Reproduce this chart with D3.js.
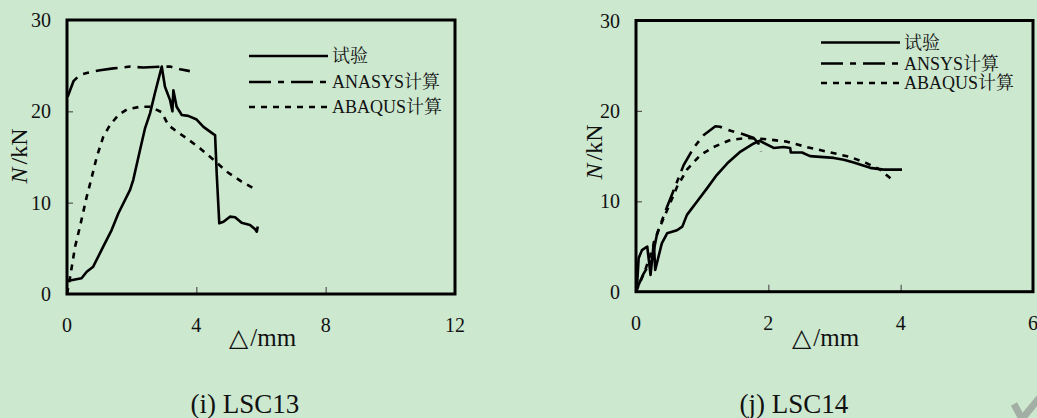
<!DOCTYPE html>
<html>
<head>
<meta charset="utf-8">
<script src="https://cdn.jsdelivr.net/npm/d3@7"></script>
<style>
  html, body { margin: 0; padding: 0; background: #cce8cf; }
  svg { display: block; }
</style>
</head>
<body>
<svg id="fig" width="1037" height="418"></svg>
<script>
// ---- LSC13: displacement (mm), load (kN) ----
const lsc13Test = [
  [0.01, 1.42], [0.45, 1.72], [0.61, 2.44], [0.81, 2.99], [1.12, 5.18], [1.38, 7.0],
  [1.59, 8.84], [1.95, 11.4], [2.05, 12.5], [2.26, 15.8], [2.41, 18.1], [2.57, 19.8],
  [2.72, 22.0], [2.93, 24.9], [3.03, 22.7], [3.19, 21.2], [3.26, 20.0], [3.29, 22.3],
  [3.39, 20.5], [3.55, 19.6], [3.75, 19.5], [4.01, 19.1], [4.22, 18.3], [4.53, 17.5],
  [4.58, 17.4], [4.63, 13.2], [4.71, 7.74], [4.84, 7.9], [5.04, 8.47], [5.20, 8.4],
  [5.40, 7.8], [5.66, 7.56], [5.82, 7.09], [5.87, 6.82], [5.90, 7.4]
];
const lsc13Ansys = [
  [0.02, 21.6], [0.2, 23.3], [0.40, 24.0], [0.61, 24.2], [1.02, 24.5], [1.43, 24.7],
  [1.95, 24.9], [2.36, 24.8], [2.93, 24.9], [3.19, 24.9], [3.50, 24.6], [3.80, 24.4]
];
const lsc13Abaqus = [
  [0.0, 0.0], [0.09, 1.72], [0.25, 5.18], [0.40, 7.37], [0.61, 10.66], [0.76, 12.7],
  [0.92, 15.0], [1.12, 17.2], [1.33, 18.5], [1.59, 19.6], [1.85, 20.2], [2.26, 20.5],
  [2.57, 20.5], [2.93, 19.9], [3.13, 18.5], [3.39, 17.8], [3.70, 17.05], [4.11, 15.96],
  [4.53, 14.7], [4.94, 13.4], [5.40, 12.3], [5.76, 11.6]
];

// ---- LSC14 ----
const lsc14Test = [
  [0.015, 0.55], [0.04, 3.7], [0.09, 4.6], [0.17, 5.0], [0.22, 1.85], [0.27, 5.5],
  [0.29, 2.4], [0.39, 5.35], [0.47, 6.46], [0.62, 6.8], [0.70, 7.2], [0.77, 8.5],
  [0.92, 9.96], [1.07, 11.4], [1.22, 12.9], [1.38, 14.2], [1.58, 15.5], [1.78, 16.4],
  [1.87, 16.7], [2.08, 15.9], [2.23, 16.0], [2.33, 15.9], [2.34, 15.4], [2.51, 15.4],
  [2.63, 15.0], [2.99, 14.8], [3.14, 14.6], [3.29, 14.3], [3.54, 13.7], [3.74, 13.5],
  [4.02, 13.5]
];
const lsc14Ansys = [
  [0.015, 0.37], [0.115, 2.0], [0.24, 3.5], [0.32, 6.46], [0.47, 9.4], [0.59, 11.6],
  [0.72, 14.0], [0.87, 15.9], [1.02, 17.3], [1.20, 18.3], [1.27, 18.25], [1.43, 17.8],
  [1.63, 17.4], [1.78, 17.0], [1.85, 16.4], [1.89, 15.5]
];
const lsc14Abaqus = [
  [0.0, 0.0], [0.14, 2.4], [0.34, 6.8], [0.47, 9.0], [0.62, 11.6], [0.77, 13.5],
  [0.97, 15.1], [1.17, 16.0], [1.43, 16.8], [1.68, 17.0], [1.93, 16.9], [2.28, 16.6],
  [2.58, 16.0], [2.94, 15.4], [3.24, 14.9], [3.49, 14.2], [3.69, 13.5], [3.87, 12.4]
];

// ---- axis ticks and labels ----
const yTicks = [0, 10, 20, 30];
const xTicks13 = [0, 4, 8, 12];
const xTicks14 = [0, 2, 4, 6];
const legend13 = ["试验", "ANASYS计算", "ABAQUS计算"];
const legend14 = ["试验", "ANSYS计算", "ABAQUS计算"];
const captions = ["(i) LSC13", "(j) LSC14"];

const SERIF = "'Liberation Serif', 'Times New Roman', Times, 'DejaVu Serif', 'Noto Serif CJK SC', 'Noto Sans CJK SC', serif";

const W = 1037, H = 418;
const svg = d3.select("#fig").attr("font-family", SERIF);

const styles = [
  { dash: null, width: 2.6 },          // test
  { dash: "22,7,6,7", width: 2.6 },    // ANSYS
  { dash: "6,6", width: 2.6 }          // ABAQUS
];

const panels = [
  {
    box: { x0: 67, x1: 455, y0: 20, y1: 294 },
    xTicks: xTicks13, series: [lsc13Test, lsc13Ansys, lsc13Abaqus],
    legend: legend13, leg: { x0: 249, x1: 328, rows: [56, 82, 107] },
    caption: captions[0], capX: 245, xTitleX: 229, yTitleX: 27, yTitleY: 156
  },
  {
    box: { x0: 636, x1: 1033, y0: 20.5, y1: 291.7 },
    xTicks: xTicks14, series: [lsc14Test, lsc14Ansys, lsc14Abaqus],
    legend: legend14, leg: { x0: 821, x1: 900, rows: [42.5, 63.5, 83] },
    caption: captions[1], capX: 794, xTitleX: 792, yTitleX: 602, yTitleY: 152
  }
];

panels.forEach(p => {
  const b = p.box;
  const xMax = p.xTicks[p.xTicks.length - 1];
  const x = d3.scaleLinear().domain([0, xMax]).range([b.x0, b.x1]);
  const y = d3.scaleLinear().domain([0, 30]).range([b.y1, b.y0]);
  const g = svg.append("g");

  // inner ticks
  g.append("g").attr("transform", `translate(0,${b.y1})`)
    .call(d3.axisTop(x).tickValues(p.xTicks.slice(1, -1)).tickSize(7).tickFormat(""))
    .call(a => { a.select(".domain").remove(); a.selectAll("line").attr("stroke", "#555").attr("stroke-width", 1.2); });
  g.append("g").attr("transform", `translate(${b.x0},0)`)
    .call(d3.axisRight(y).tickValues(yTicks.slice(1, -1)).tickSize(6).tickFormat(""))
    .call(a => { a.select(".domain").remove(); a.selectAll("line").attr("stroke", "#555").attr("stroke-width", 1.2); });

  // tick labels
  g.selectAll(".xl").data(p.xTicks).join("text")
    .attr("x", d => x(d)).attr("y", b.y1 + 38)
    .attr("text-anchor", "middle").attr("font-size", 20).attr("fill", "#111").text(d => d);
  g.selectAll(".yl").data(yTicks).join("text")
    .attr("x", b.x0 - 16).attr("y", d => y(d) + 7)
    .attr("text-anchor", "end").attr("font-size", 20).attr("fill", "#111").text(d => d);

  // curves
  const line = d3.line().x(d => x(d[0])).y(d => y(d[1]));
  p.series.forEach((s, i) => {
    g.append("path").datum(s).attr("d", line)
      .attr("fill", "none").attr("stroke", "#000")
      .attr("stroke-width", styles[i].width)
      .attr("stroke-linejoin", "round")
      .attr("stroke-dasharray", styles[i].dash);
  });

  // frame
  g.append("rect").attr("x", b.x0).attr("y", b.y0)
    .attr("width", b.x1 - b.x0).attr("height", b.y1 - b.y0)
    .attr("fill", "none").attr("stroke", "#000").attr("stroke-width", 3);

  // legend
  p.legend.forEach((t, i) => {
    const ry = p.leg.rows[i];
    g.append("line").attr("x1", p.leg.x0).attr("x2", p.leg.x1)
      .attr("y1", ry).attr("y2", ry)
      .attr("stroke", "#000").attr("stroke-width", 2.6)
      .attr("stroke-dasharray", styles[i].dash);
    g.append("text")
      .attr("x", p.leg.x1 + 4).attr("y", ry + 6)
      .attr("font-size", 18).attr("fill", "#111").text(t);
  });

  // axis title: △/mm
  const xt = g.append("text").attr("x", p.xTitleX).attr("y", 346)
    .attr("font-size", 25).attr("fill", "#111");
  xt.append("tspan").text("△");
  xt.append("tspan").attr("dx", 2).text("/mm");

  // axis title: N/kN
  const yt = g.append("text")
    .attr("transform", `translate(${p.yTitleX},${p.yTitleY}) rotate(-90)`)
    .attr("text-anchor", "middle").attr("font-size", 24).attr("fill", "#111");
  yt.append("tspan").attr("font-style", "italic").text("N");
  yt.append("tspan").attr("dx", 3).text("/kN");

  // caption
  g.append("text").attr("x", p.capX).attr("y", 413)
    .attr("text-anchor", "middle").attr("font-size", 27).attr("fill", "#111").text(p.caption);
});

// faint grey mark in the lower-right corner
svg.append("path")
  .attr("d", d3.line()([[W - 23, H - 14], [W - 15, H + 1], [W + 4, H - 22]]))
  .attr("fill", "none").attr("stroke", "#a3afa4").attr("stroke-width", 7);
</script>
</body>
</html>
